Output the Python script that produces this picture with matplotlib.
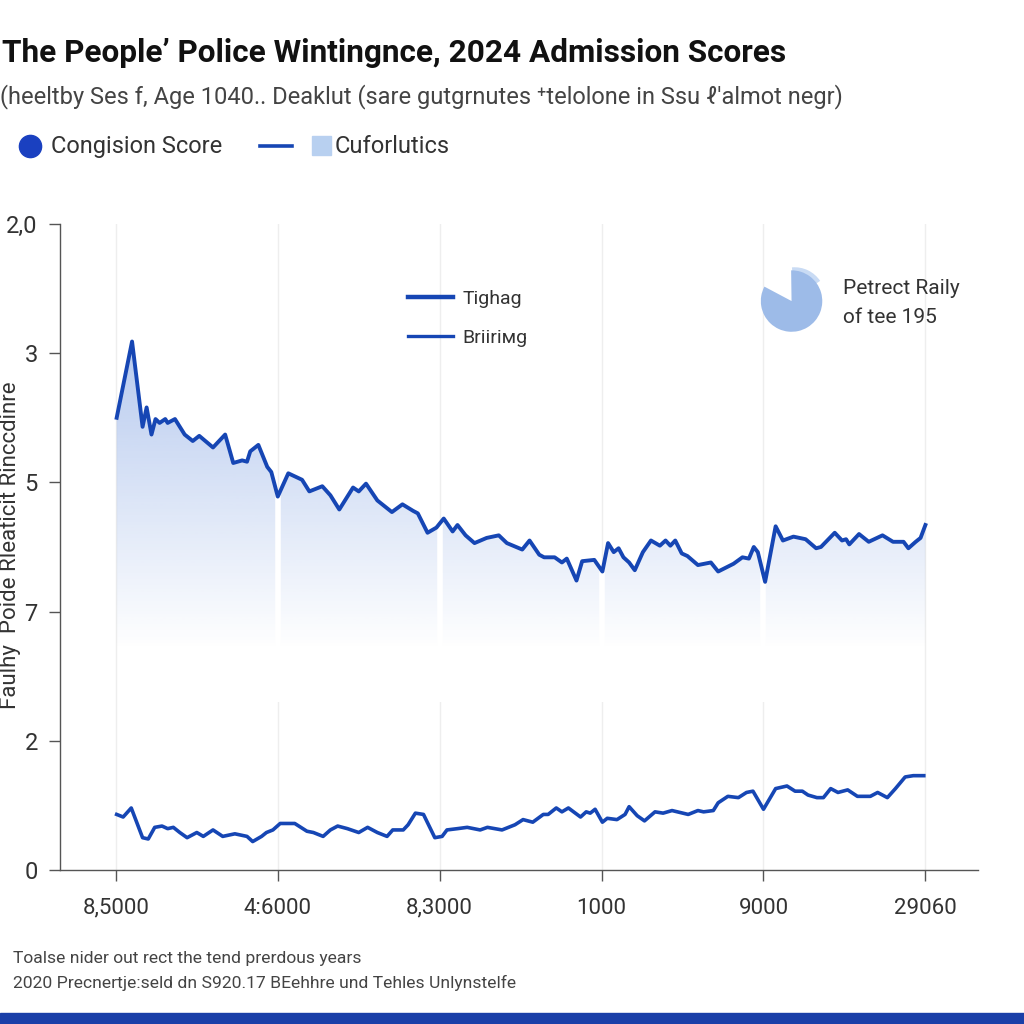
import numpy as np
import matplotlib
matplotlib.use('Agg')
import matplotlib.pyplot as plt
from matplotlib.lines import Line2D
from matplotlib.patches import Rectangle, Polygon
from matplotlib.colors import to_rgb

plt.rcParams['font.family'] = ['Roboto', 'DejaVu Sans']

title = "The People’ Police Wintingnce, 2024 Admission Scores"
subtitle = "(heeltby Ses f, Age 1040.. Deaklut (sare gutgrnutes ⁺telolone in Ssu ℓ'almot negr)"
legend_top = ["Congision Score", "Cuforlutics"]
legend_inner = ["Tighag", "Briiriмg"]
pie_note = "Petrect Raily\nof tee 195"
pie_share = [83, 17]
ylabel = "Faulhy  Poide Rleaticit Rinccdinre"
foot1 = "Toalse nider out rect the tend prerdous years"
foot2 = "2020 Precnertje:seld dn S920.17 BEehhre und Tehles Unlynstelfe"

xtick_pos = [0, 20, 40, 60, 80, 100]
xtick_labels = ['8,5000', '4:6000', '8,3000', '1000', '9000', '29060']
ytick_pos = [0, 1, 2, 3, 4, 5]
ytick_labels = ['0', '2', '7', '5', '3', '2,0']

upper_x = [0.1, 2.0, 3.3, 3.8, 4.4, 4.9, 5.4, 6.1, 6.4, 7.3, 8.5, 9.5, 10.3, 12.0, 13.5,
           14.5, 15.6, 16.2, 16.6, 17.6, 18.7, 19.2, 20.0, 21.3, 23.0, 23.9, 25.5, 26.5,
           27.6, 29.3, 30.0, 30.9, 32.3, 34.1, 35.4, 36.7, 37.3, 38.5, 39.6, 40.5, 41.6,
           42.2, 43.2, 44.3, 45.8, 47.3, 48.3, 50.2, 51.1, 52.3, 52.9, 54.2, 55.1, 55.7,
           56.9, 57.6, 59.1, 60.1, 60.8, 61.5, 62.1, 62.7, 63.4, 64.1, 65.1, 66.1, 67.2,
           67.9, 68.5, 69.1, 69.9, 70.6, 71.9, 73.5, 74.4, 76.3, 77.4, 78.2, 78.8, 79.3,
           80.2, 81.5, 82.4, 83.7, 85.2, 86.5, 87.1, 88.8, 89.7, 90.2, 90.6, 91.8, 93.0,
           94.7, 96.0, 97.3, 97.9, 98.8, 99.4, 100.0]
upper_y = [3.50, 4.09, 3.43, 3.58, 3.37, 3.49, 3.46, 3.49, 3.46, 3.49, 3.37, 3.32, 3.36, 3.27,
           3.37, 3.15, 3.17, 3.16, 3.24, 3.29, 3.12, 3.08, 2.89, 3.07, 3.02, 2.93, 2.97, 2.90,
           2.79, 2.96, 2.93, 2.99, 2.86, 2.77, 2.83, 2.78, 2.76, 2.61, 2.65, 2.72, 2.62, 2.67,
           2.59, 2.53, 2.57, 2.59, 2.53, 2.48, 2.55, 2.44, 2.42, 2.42, 2.38, 2.41, 2.24, 2.39,
           2.40, 2.31, 2.53, 2.46, 2.49, 2.42, 2.38, 2.32, 2.46, 2.55, 2.51, 2.55, 2.51, 2.55,
           2.45, 2.43, 2.36, 2.38, 2.31, 2.37, 2.42, 2.41, 2.50, 2.46, 2.23, 2.66, 2.55, 2.58,
           2.56, 2.49, 2.50, 2.61, 2.55, 2.56, 2.52, 2.60, 2.54, 2.59, 2.54, 2.54, 2.49, 2.54,
           2.57, 2.67]

lower_x = [0.1, 0.9, 1.9, 3.3, 4.0, 4.8, 5.7, 6.4, 7.1, 7.9, 8.8, 10.0, 10.8, 12.0, 13.2,
           14.7, 16.2, 16.9, 18.0, 18.6, 19.4, 20.3, 21.5, 22.1, 23.6, 24.4, 25.6, 26.5, 27.4,
           28.6, 30.0, 31.1, 32.3, 33.5, 34.2, 35.5, 36.1, 37.0, 38.0, 39.4, 40.3, 40.9, 42.2,
           43.4, 45.0, 45.9, 47.7, 49.3, 50.3, 51.5, 52.8, 53.4, 54.4, 55.1, 55.9, 57.4, 58.1,
           58.6, 59.2, 60.1, 60.7, 61.9, 62.9, 63.4, 64.4, 65.3, 66.6, 67.6, 68.7, 70.7, 71.9,
           72.6, 73.8, 74.4, 75.6, 76.9, 77.9, 78.7, 80.0, 81.5, 82.9, 83.9, 84.8, 85.5, 86.6,
           87.4, 88.3, 89.2, 90.4, 91.6, 93.2, 94.1, 95.3, 96.3, 97.5, 98.5, 99.8]
lower_y = [0.43, 0.41, 0.48, 0.25, 0.24, 0.33, 0.34, 0.32, 0.33, 0.29, 0.25, 0.29, 0.26, 0.31,
           0.26, 0.28, 0.26, 0.22, 0.26, 0.29, 0.31, 0.36, 0.36, 0.36, 0.30, 0.29, 0.26, 0.31,
           0.34, 0.32, 0.29, 0.33, 0.29, 0.26, 0.31, 0.31, 0.35, 0.44, 0.43, 0.25, 0.26, 0.31,
           0.32, 0.33, 0.31, 0.33, 0.31, 0.35, 0.39, 0.37, 0.43, 0.43, 0.48, 0.45, 0.48, 0.41,
           0.45, 0.44, 0.47, 0.37, 0.40, 0.39, 0.43, 0.49, 0.42, 0.38, 0.45, 0.44, 0.46, 0.43,
           0.46, 0.45, 0.46, 0.52, 0.57, 0.56, 0.60, 0.61, 0.47, 0.63, 0.65, 0.61, 0.61, 0.58,
           0.56, 0.56, 0.63, 0.60, 0.62, 0.57, 0.57, 0.60, 0.56, 0.63, 0.72, 0.73, 0.73]

BLUE = '#1646b4'
TXT = '#333333'

fig = plt.figure(figsize=(10.24, 10.24), dpi=100)
ax = fig.add_axes([0.0586, 0.1504, 0.8965, 0.6309])

# gradient fill under the upper series
verts = np.column_stack([np.r_[upper_x, upper_x[-1], upper_x[0]],
                         np.r_[upper_y, 1.3, 1.3]])
poly = Polygon(verts, closed=True, facecolor='none', edgecolor='none')
ax.add_patch(poly)
alpha = np.linspace(0, 0.38, 256)
rgba = np.zeros((256, 1, 4))
rgba[..., :3] = to_rgb('#3f72d4')
rgba[:, 0, 3] = alpha
im = ax.imshow(rgba, extent=[0, 100, 1.7, 4.1], origin='lower', aspect='auto',
               zorder=1, interpolation='bilinear')
im.set_clip_path(poly)
for xv in xtick_pos[1:-1]:
    sep = ax.axvline(xv, color='white', lw=4, zorder=1.5)
    sep.set_clip_path(poly)

ax.plot(upper_x, upper_y, color=BLUE, lw=2.8, zorder=3, solid_joinstyle='round')
ax.plot(lower_x, lower_y, color=BLUE, lw=2.6, zorder=3, solid_joinstyle='round')

ax.set_xlim(-6.9, 106.5)
ax.set_ylim(0, 5)
ax.set_xticks(xtick_pos)
ax.set_xticklabels(xtick_labels, fontsize=16, color=TXT)
ax.set_yticks(ytick_pos)
ax.set_yticklabels(ytick_labels, fontsize=17, color=TXT)
ax.tick_params(axis='both', length=8, color='#555555', width=1)
ax.tick_params(axis='x', pad=12)
ax.tick_params(axis='y', pad=8)
ax.grid(axis='x', color='#eeeeee', lw=1)
ax.set_axisbelow(True)
for s in ['top', 'right']:
    ax.spines[s].set_visible(False)
for s in ['left', 'bottom']:
    ax.spines[s].set_color('#555555')
    ax.spines[s].set_linewidth(1)

# inner legend
h1 = Line2D([], [], color=BLUE, lw=3.2)
h2 = Line2D([], [], color=BLUE, lw=2.4)
leg = ax.legend([h1, h2], legend_inner, loc='upper left', bbox_to_anchor=(0.36, 0.925),
                frameon=False, fontsize=14, handlelength=2.3, labelspacing=1.1,
                handletextpad=0.5)
for t in leg.get_texts():
    t.set_color(TXT)

# small pie icon
pax = fig.add_axes([0.737, 0.67, 0.075, 0.075])
pax.pie(pie_share, colors=['none', '#c9dbf4'], startangle=95, counterclock=True,
        center=(0.1, 0.1), radius=1.0)
pax.pie(pie_share, colors=['#9dbbe8', 'none'], startangle=152, counterclock=True,
        center=(0, 0), radius=1.0)
pax.set_xlim(-1.2, 1.3)
pax.set_ylim(-1.2, 1.3)
pax.set_aspect('equal')
pax.axis('off')
fig.text(0.823, 0.704, pie_note, fontsize=15, color=TXT, va='center', linespacing=1.7)

# titles
fig.text(0.002, 0.948, title, fontsize=22.7, fontweight='bold', color='#111111', va='center')
fig.text(0.0, 0.906, subtitle, fontsize=17, color='#444444', va='center')

# top legend
fig.add_artist(Line2D([0.029], [0.857], marker='o', markersize=16, color='#1a40c0',
                      transform=fig.transFigure))
fig.text(0.050, 0.857, legend_top[0], fontsize=17, color=TXT, va='center')
fig.add_artist(Line2D([0.254, 0.285], [0.857, 0.857], color=BLUE, lw=2.6,
                      transform=fig.transFigure))
fig.add_artist(Rectangle((0.305, 0.849), 0.018, 0.018, color='#b8d0f0',
                         transform=fig.transFigure))
fig.text(0.327, 0.857, legend_top[1], fontsize=17, color=TXT, va='center')

# y label
fig.text(0.010, 0.468, ylabel, fontsize=16, color=TXT, rotation=90, va='center', ha='center')

# footnotes
fig.text(0.013, 0.064, foot1, fontsize=12.6, color='#444444', va='center')
fig.text(0.013, 0.040, foot2, fontsize=12.6, color='#444444', va='center')

# bottom bar
fig.add_artist(Rectangle((0, 0), 1, 0.011, color='#1a3fa8', transform=fig.transFigure))

fig.savefig('out.png', dpi=100, facecolor='white')
